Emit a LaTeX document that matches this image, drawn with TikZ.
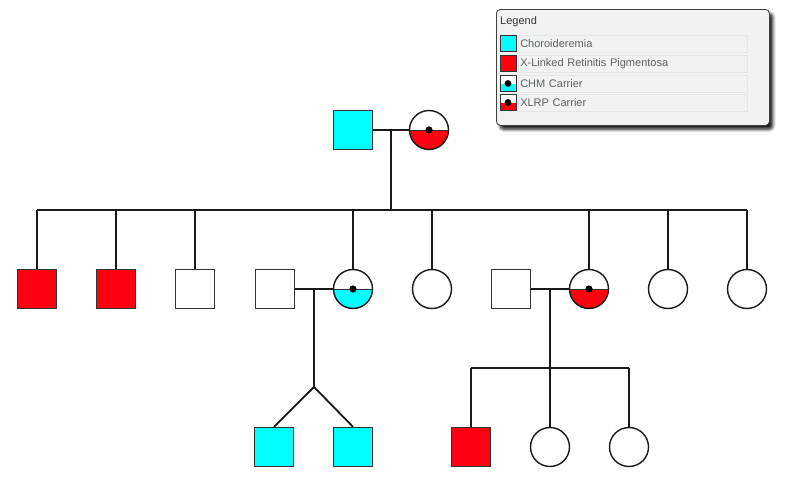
\documentclass[tikz,border=0pt]{standalone}
\usepackage{fontspec}
\setsansfont{Liberation Sans}
\usetikzlibrary{calc, shadows.blur}
\definecolor{chmcyan}{RGB}{0, 255, 255}
\definecolor{xlrpred}{RGB}{255, 0, 16}
\definecolor{legfill}{RGB}{241, 242, 242}

\begin{document}
\begin{tikzpicture}[x=1pt, y=-1pt, font=\sffamily,
    male/.style={
        draw=black!80, line width=1.4pt, fill=white,
        minimum size=39pt, inner sep=0pt
    },
    female/.style={male, circle, draw=black!90},
    affchm/.style={male, fill=chmcyan},
    affx/.style={male, fill=xlrpred},
    carrier/.style={female, path picture={
        \fill[#1] (path picture bounding box.west) rectangle (path picture bounding box.south east);
        \draw[black!80, line width=0.7pt] (path picture bounding box.west) -- (path picture bounding box.east);
        \fill[black] (path picture bounding box.center) circle (3.6pt);
    }},
    licon/.style={draw=black!80, line width=0.9pt, minimum size=16pt, inner sep=0pt},
    lcarrier/.style={licon, fill=white, path picture={
        \fill[#1] (path picture bounding box.west) rectangle (path picture bounding box.south east);
        \fill[black] (path picture bounding box.center) circle (3.4pt);
    }},
    legrow/.style={
        draw=black!10, line width=0.5pt, anchor=west, text width=225pt,
        inner sep=2pt, minimum height=17pt, text=black!62,
        font=\sffamily\fontsize{11}{12}\selectfont
    },
    legbox/.style={
        draw=black!75, line width=0.8pt, fill=legfill, rounded corners=4pt,
        minimum width=273pt, minimum height=116pt, anchor=north west,
        blur shadow={shadow xshift=3.5pt, shadow yshift=-4pt, shadow opacity=90,
                     shadow blur radius=3pt, shadow blur steps=6}
    },
    line/.style={line width=1.8pt, black!90},
]
\useasboundingbox (0,0) rectangle (793,482);

% ================= generation I =================
\node[affchm] (f0) at (353,130) {};
\node[carrier=xlrpred] (m0) at (429,130) {};
\coordinate (mar0) at ($(f0.east)!0.5!(m0.west)$);
\coordinate (sib) at ($(mar0)+(0,80)$);

% ================= generation II =================
\node[affx]    (g1) at (37,289) {};
\node[affx]    (g2) at (116,289) {};
\node[male]    (g3) at (195,289) {};
\node[male]    (s1) at (275,289) {};
\node[carrier=chmcyan] (g4) at (353,289) {};
\node[female]  (g5) at (432,289) {};
\node[male]    (s2) at (511,289) {};
\node[carrier=xlrpred] (g6) at (589,289) {};
\node[female]  (g7) at (668,289) {};
\node[female]  (g8) at (747,289) {};

\draw[line] (f0.east) -- (m0.west);
\draw[line] (mar0) -- (sib);
\draw[line] (sib -| g1) -- (sib -| g8);
\foreach \n in {g1,g2,g3,g4,g5,g6,g7,g8}{
    \draw[line] (sib -| \n) -- (\n.north);
}

% ================= generation III =================
\node[affchm] (t1) at (274,447) {};
\node[affchm] (t2) at (353,447) {};
\node[affx]   (h1) at (471,447) {};
\node[female] (h2) at (550,447) {};
\node[female] (h3) at (629,447) {};

% twins
\draw[line] (s1.east) -- (g4.west);
\coordinate (mar1) at ($(s1.east)!0.5!(g4.west)$);
\coordinate (tw) at ($(mar1)+(0,98)$);
\draw[line] (mar1) -- (tw);
\draw[line] (tw) -- (t1.north);
\draw[line] (tw) -- (t2.north);

% sibship
\draw[line] (s2.east) -- (g6.west);
\coordinate (mar2) at ($(s2.east)!0.5!(g6.west)$);
\coordinate (sib2) at ($(mar2)+(0,79)$);
\draw[line] (mar2) -- (sib2);
\draw[line] (sib2 -| h1) -- (sib2 -| h3);
\foreach \n in {h1,h2,h3}{
    \draw[line] (sib2 -| \n) -- (\n.north);
}

% ================= legend =================
\node[legbox] (legend) at (496,9) {};
\node[anchor=west, inner sep=0pt, text=black!80, font=\sffamily\fontsize{11}{12}\selectfont]
    (legtitle) at (500,22) {Legend};

\node[licon, fill=chmcyan] (i1) at (508,43.5) {};
\node[legrow] (r1) at (518,43.5) {Choroideremia};
\node[licon, fill=xlrpred] (i2) at (508,63.5) {};
\node[legrow] (r2) at (518,63.5) {X-Linked Retinitis Pigmentosa};
\node[lcarrier=chmcyan] (i3) at (508,83.5) {};
\node[legrow] (r3) at (518,83.5) {CHM Carrier};
\node[lcarrier=xlrpred] (i4) at (508,102.5) {};
\node[legrow] (r4) at (518,102.5) {XLRP Carrier};

\end{tikzpicture}
\end{document}
